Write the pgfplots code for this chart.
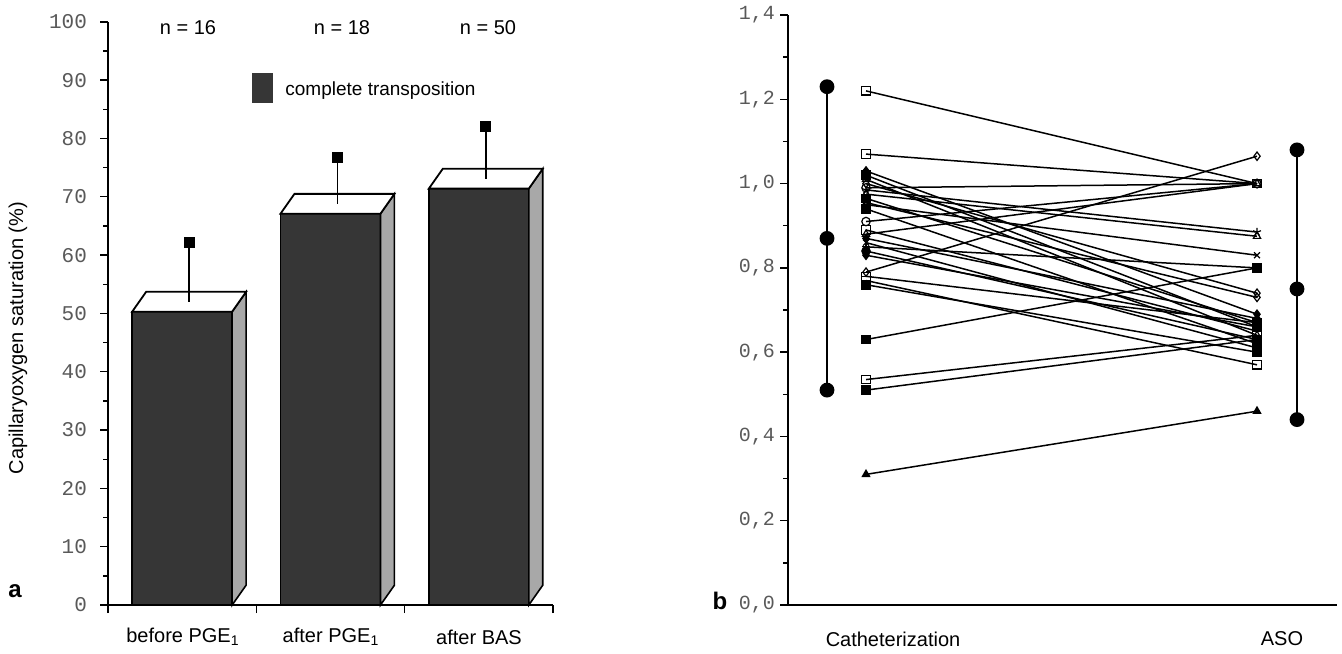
\documentclass[border=0pt]{standalone}
\usepackage{pgfplots}
\pgfplotsset{compat=1.18}
\usepackage{fontspec}
\setmainfont{Liberation Sans}
\newfontfamily\monofont{Liberation Mono}
\definecolor{frontgray}{HTML}{363636}
\definecolor{sidegray}{HTML}{A8A8A8}
\begin{document}
\begin{tikzpicture}
\path (0,0) rectangle (671pt,326pt);
% ---------------- panel a ----------------
\begin{axis}[
  at={(54pt,24pt)}, anchor=south west,
  scale only axis, width=222.5pt, height=291.6pt,
  xmin=0, xmax=3, ymin=0, ymax=100,
  axis lines*=left, clip=false,
  axis line style={line width=0.9pt},
  xtick={0,1,2,3}, xticklabels={},
  ytick={0,10,...,100}, minor y tick num=1,
  tick style={black, line width=0.7pt},
  major tick length=4pt, minor tick length=2.5pt,
  tick align=outside,
  /pgf/number format/assume math mode=true,
  yticklabel style={font=\monofont\fontsize{10.5}{12}\selectfont, text=black!65, xshift=-3pt},
]
% front faces
\addplot[draw=black, line width=0.8pt, fill=frontgray] coordinates {(0.163,0)(0.163,50.3)(0.837,50.3)(0.837,0)} -- cycle;
\addplot[draw=black, line width=0.8pt, fill=frontgray] coordinates {(1.163,0)(1.163,67.1)(1.837,67.1)(1.837,0)} -- cycle;
\addplot[draw=black, line width=0.8pt, fill=frontgray] coordinates {(2.163,0)(2.163,71.4)(2.837,71.4)(2.837,0)} -- cycle;
% side faces
\addplot[draw=black, line width=0.8pt, fill=sidegray] coordinates {(0.837,0)(0.931,3.4)(0.931,53.7)(0.837,50.3)} -- cycle;
\addplot[draw=black, line width=0.8pt, fill=sidegray] coordinates {(1.837,0)(1.931,3.4)(1.931,70.5)(1.837,67.1)} -- cycle;
\addplot[draw=black, line width=0.8pt, fill=sidegray] coordinates {(2.837,0)(2.931,3.4)(2.931,74.8)(2.837,71.4)} -- cycle;
% top faces
\addplot[draw=black, line width=0.9pt, fill=white] coordinates {(0.163,50.3)(0.257,53.7)(0.931,53.7)(0.837,50.3)} -- cycle;
\addplot[draw=black, line width=0.9pt, fill=white] coordinates {(1.163,67.1)(1.257,70.5)(1.931,70.5)(1.837,67.1)} -- cycle;
\addplot[draw=black, line width=0.9pt, fill=white] coordinates {(2.163,71.4)(2.257,74.8)(2.931,74.8)(2.837,71.4)} -- cycle;
% error bars
\addplot[black, line width=0.8pt, mark=square*, mark repeat=2, mark phase=2, mark size=2.4pt] coordinates {(0.547,52.0)(0.547,62.2)};
\addplot[black, line width=0.8pt, mark=square*, mark repeat=2, mark phase=2, mark size=2.4pt] coordinates {(1.547,68.8)(1.547,76.7)};
\addplot[black, line width=0.8pt, mark=square*, mark repeat=2, mark phase=2, mark size=2.4pt] coordinates {(2.547,73.1)(2.547,82.0)};
\end{axis}
% panel a texts
\node[rotate=90, font=\fontsize{10}{12}\selectfont] at (9pt,157.5pt) {Capillaryoxygen saturation (\%)};
\node[font=\bfseries\fontsize{12}{14}\selectfont] at (7.5pt,31pt) {a};
\node[font=\fontsize{10}{12}\selectfont] at (91.5pt,8pt) {before PGE\textsubscript{1}};
\node[font=\fontsize{10}{12}\selectfont] at (165.5pt,8pt) {after PGE\textsubscript{1}};
\node[font=\fontsize{10}{12}\selectfont] at (239.5pt,8pt) {after BAS};
\node[font=\fontsize{10}{12}\selectfont] at (94pt,312.5pt) {n = 16};
\node[font=\fontsize{10}{12}\selectfont] at (171pt,312.5pt) {n = 18};
\node[font=\fontsize{10}{12}\selectfont] at (244pt,312.5pt) {n = 50};
\fill[frontgray] (126pt,275pt) rectangle (136.5pt,290pt);
\node[anchor=west, font=\fontsize{9.5}{11}\selectfont, inner sep=0pt] at (142.5pt,281pt) {complete transposition};
% ---------------- panel b ----------------
\begin{axis}[
  at={(394pt,24pt)}, anchor=south west,
  scale only axis, width=274.5pt, height=295pt,
  xmin=0, xmax=549, ymin=0, ymax=1.4,
  axis lines*=left, clip=false,
  axis line style={line width=0.9pt},
  xtick=\empty,
  ytick={0,0.2,...,1.4}, minor y tick num=1,
  tick style={black, line width=0.7pt},
  major tick length=4pt, minor tick length=2.5pt,
  tick align=outside,
  /pgf/number format/assume math mode=true,
  /pgf/number format/.cd, fixed, fixed zerofill, precision=1, use comma,
  /pgfplots/.cd,
  yticklabel style={font=\monofont\fontsize{10}{12}\selectfont, text=black!65, xshift=1pt},
  pl/.style={black, line width=0.75pt, mark size=2.1pt, mark options={solid, line width=0.6pt, fill=white}},
  pf/.style={black, line width=0.75pt, mark size=2.1pt, mark options={solid, line width=0.6pt, fill=black}},
]
% range bars
\addplot[black, line width=0.8pt, mark=*, mark size=3.3pt] coordinates {(39,1.23)(39,0.87)(39,0.51)};
\addplot[black, line width=0.8pt, mark=*, mark size=3.3pt] coordinates {(509,1.08)(509,0.75)(509,0.44)};
% individual patients
\addplot[pl, mark=square] coordinates {(78,1.22)(469,1.00)};
\addplot[pl, mark=square] coordinates {(78,1.07)(469,1.00)};
\addplot[pf, mark=diamond*] coordinates {(78,1.03)(469,0.69)};
\addplot[pf, mark=square*] coordinates {(78,1.02)(469,0.66)};
\addplot[pl, mark=triangle] coordinates {(78,1.01)(469,0.64)};
\addplot[pl, mark=diamond] coordinates {(78,1.00)(469,0.74)};
\addplot[pl, mark=o] coordinates {(78,0.99)(469,1.00)};
\addplot[pl, mark=star] coordinates {(78,0.985)(469,0.885)};
\addplot[pl, mark=triangle] coordinates {(78,0.975)(469,0.875)};
\addplot[pf, mark=square*] coordinates {(78,0.965)(469,0.67)};
\addplot[pl, mark=diamond] coordinates {(78,0.955)(469,0.73)};
\addplot[pl, mark=x] coordinates {(78,0.95)(469,0.83)};
\addplot[pf, mark=square*] coordinates {(78,0.94)(469,0.62)};
\addplot[pl, mark=o] coordinates {(78,0.91)(469,1.00)};
\addplot[pl, mark=square] coordinates {(78,0.89)(469,0.65)};
\addplot[pl, mark=triangle] coordinates {(78,0.88)(469,1.00)};
\addplot[pf, mark=diamond*] coordinates {(78,0.87)(469,0.68)};
\addplot[pl, mark=x] coordinates {(78,0.86)(469,0.61)};
\addplot[pl, mark=+] coordinates {(78,0.85)(469,0.80)};
\addplot[pf, mark=*] coordinates {(78,0.84)(469,0.63)};
\addplot[pf, mark=diamond*] coordinates {(78,0.83)(469,0.66)};
\addplot[pl, mark=diamond] coordinates {(78,0.79)(469,1.065)};
\addplot[pl, mark=square] coordinates {(78,0.78)(469,0.67)};
\addplot[pl, mark=square] coordinates {(78,0.77)(469,0.57)};
\addplot[pf, mark=square*] coordinates {(78,0.76)(469,0.60)};
\addplot[pf, mark=square*] coordinates {(78,0.63)(469,0.80)};
\addplot[pl, mark=square] coordinates {(78,0.535)(469,0.64)};
\addplot[pf, mark=square*] coordinates {(78,0.51)(469,0.63)};
\addplot[pf, mark=triangle*] coordinates {(78,0.31)(469,0.46)};
\end{axis}
\node[font=\bfseries\fontsize{12}{14}\selectfont] at (360pt,26pt) {b};
\node[font=\fontsize{10}{12}\selectfont] at (446.5pt,7pt) {Catheterization};
\node[font=\fontsize{10}{12}\selectfont] at (641pt,7pt) {ASO};
\end{tikzpicture}
\end{document}
